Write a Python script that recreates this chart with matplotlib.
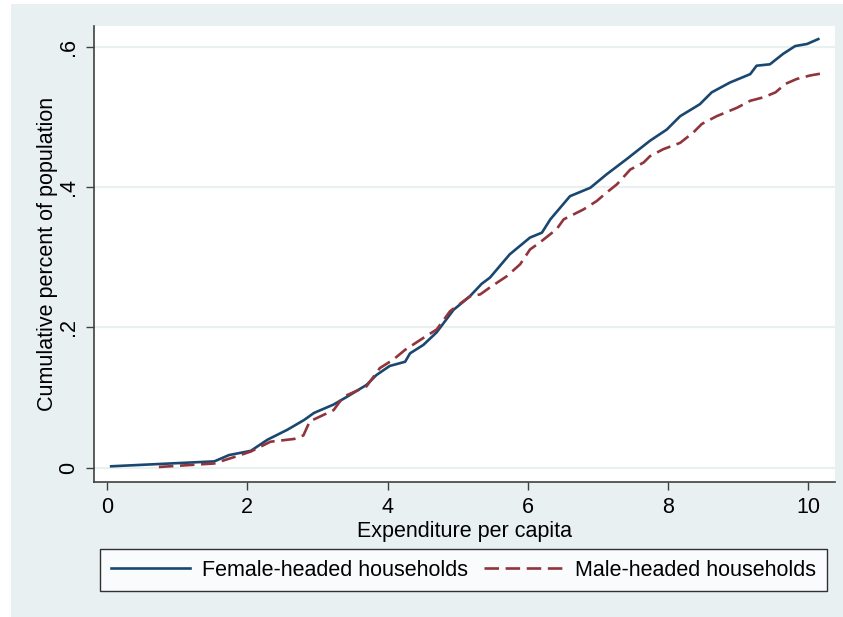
import numpy as np
import matplotlib
matplotlib.use("Agg")
import matplotlib.pyplot as plt
from matplotlib.patches import Rectangle

plt.rcParams['font.family'] = ['Liberation Sans', 'DejaVu Sans']

# cumulative distribution
femaleX = [0.06, 1.53, 1.74, 2.05, 2.29, 2.57, 2.81, 2.95, 3.23, 3.42, 3.70, 3.84,
           4.03, 4.25, 4.32, 4.51, 4.70, 4.94, 5.17, 5.34, 5.46, 5.74, 6.03, 6.20,
           6.32, 6.60, 6.89, 7.12, 7.41, 7.74, 7.98, 8.17, 8.45, 8.62, 8.88, 9.17,
           9.26, 9.45, 9.64, 9.81, 9.98, 10.14]
femaleY = [0.002, 0.009, 0.018, 0.024, 0.040, 0.054, 0.068, 0.078, 0.090, 0.101, 0.118, 0.132,
           0.145, 0.151, 0.163, 0.175, 0.193, 0.225, 0.244, 0.262, 0.271, 0.304, 0.328, 0.335,
           0.354, 0.387, 0.399, 0.418, 0.440, 0.466, 0.482, 0.501, 0.518, 0.535, 0.549, 0.561,
           0.573, 0.575, 0.590, 0.601, 0.604, 0.611]

maleX = [0.74, 1.53, 1.62, 1.81, 2.05, 2.33, 2.67, 2.80, 2.89, 3.23, 3.37, 3.70,
         3.89, 4.08, 4.25, 4.51, 4.70, 4.89, 5.17, 5.32, 5.46, 5.70, 5.89, 6.03,
         6.17, 6.41, 6.51, 6.79, 6.98, 7.12, 7.27, 7.46, 7.65, 7.74, 7.93, 8.17,
         8.36, 8.48, 8.69, 8.98, 9.17, 9.36, 9.53, 9.67, 9.83, 10.02, 10.19]
maleY = [0.001, 0.006, 0.009, 0.015, 0.023, 0.037, 0.041, 0.046, 0.066, 0.082, 0.101, 0.116,
         0.142, 0.154, 0.168, 0.185, 0.197, 0.223, 0.244, 0.247, 0.257, 0.273, 0.290, 0.311,
         0.321, 0.340, 0.354, 0.368, 0.380, 0.392, 0.404, 0.425, 0.435, 0.444, 0.454, 0.463,
         0.478, 0.490, 0.501, 0.513, 0.523, 0.528, 0.535, 0.547, 0.554, 0.559, 0.562]

xTicks = [0, 2, 4, 6, 8, 10]
yTicks = [0, 0.2, 0.4, 0.6]
yTickLabels = ['0', '.2', '.4', '.6']

bgColor = '#E8F0F2'
blue = '#1A476F'
red = '#90353B'
fs = 15.5

fig = plt.figure(figsize=(8.43, 6.17), dpi=100)
fig.patch.set_facecolor('white')
fig.patches.append(Rectangle((11/843, 0), 1 - 11/843, 1 - 4/617, transform=fig.transFigure,
                             facecolor=bgColor, edgecolor='none', zorder=-10))

ax = fig.add_axes([94/843, 1 - 482/617, (835 - 94)/843, (482 - 26)/617])
ax.set_facecolor('white')

l1, = ax.plot(femaleX, femaleY, color=blue, lw=1.9, solid_joinstyle='round')
l2, = ax.plot(maleX, maleY, color=red, lw=1.9, linestyle=(0, (5.5, 2.5)))

ax.set_xlim(-0.185, 10.378)
ax.set_ylim(-0.0204, 0.6296)
ax.set_xticks(xTicks)
ax.set_yticks(yTicks)
ax.set_yticklabels(yTickLabels, rotation=90, va='center')
ax.grid(axis='y', color=bgColor, lw=1.6)
ax.set_axisbelow(True)

for s in ['top', 'right']:
    ax.spines[s].set_visible(False)
for s in ['left', 'bottom']:
    ax.spines[s].set_color('#404040')
    ax.spines[s].set_linewidth(1.2)
ax.tick_params(axis='both', direction='out', length=6, width=1, color='#404040',
               labelsize=fs, labelcolor='black')
ax.tick_params(axis='x', pad=5)
ax.tick_params(axis='y', pad=5)

ax.set_xlabel('Expenditure per capita', fontsize=fs, labelpad=2)
ax.set_ylabel('Cumulative percent of population', fontsize=fs, labelpad=0)

leg = fig.legend([l1, l2], ['Female-headed households', 'Male-headed households'],
                 loc='center', ncol=2, mode='expand',
                 bbox_to_anchor=(100/843, 27/617, 727/843, 40/617),
                 bbox_transform=fig.transFigure, fontsize=fs, frameon=True,
                 fancybox=False, handlelength=3.7, handletextpad=0.55,
                 borderaxespad=0, borderpad=0.5, columnspacing=1.0)
leg.get_frame().set_edgecolor('black')
leg.get_frame().set_linewidth(1.0)
leg.get_frame().set_facecolor('white')

fig.savefig('out.png', dpi=100, facecolor=fig.get_facecolor())
